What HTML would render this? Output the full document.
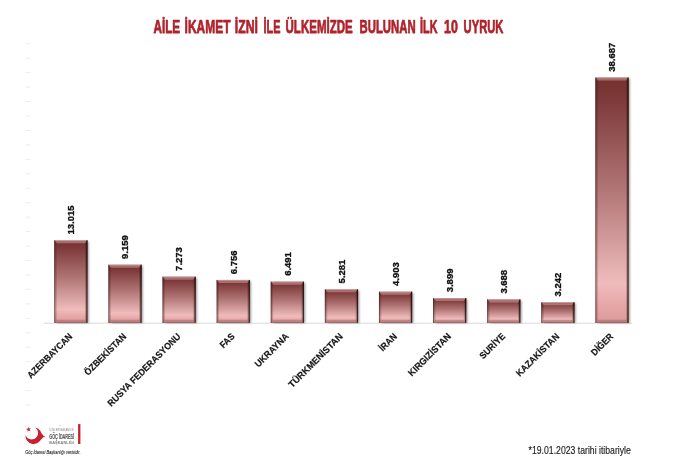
<!DOCTYPE html>
<html lang="tr"><head><meta charset="utf-8"><title>Aile İkamet İzni</title>
<style>
html,body{margin:0;padding:0;background:#fff;}
body{width:694px;height:465px;overflow:hidden;position:relative;font-family:"Liberation Sans",sans-serif;}
svg{position:absolute;left:0;top:0;display:block}
text{font-family:"Liberation Sans",sans-serif;}
.t{font-weight:bold;font-size:18.4px;fill:#b1232b;stroke:#b1232b;stroke-width:0.75px;stroke-linejoin:round;}
.v{font-weight:bold;font-size:9px;fill:#111;stroke:#111;stroke-width:0.32px;}
.c{font-weight:bold;font-size:9.3px;fill:#161616;stroke:#161616;stroke-width:0.2px;}
</style></head><body>
<svg width="694" height="465" viewBox="0 0 694 465">
<defs>
<linearGradient id="g" x1="0" y1="0" x2="0" y2="1">
<stop offset="0" stop-color="#753030"/>
<stop offset="0.06" stop-color="#7a3535"/>
<stop offset="0.45" stop-color="#b07474"/>
<stop offset="0.84" stop-color="#efbcbc"/>
<stop offset="0.93" stop-color="#e6a6a6"/>
<stop offset="1" stop-color="#dc9a9a"/>
</linearGradient>
<filter id="sh" x="-20%" y="-5%" width="150%" height="110%"><feGaussianBlur stdDeviation="0.9"/></filter>
</defs>
<rect width="694" height="465" fill="#fff"/>

<rect x="25.3" y="43.25" width="5.2" height="1" fill="#ededed"/>
<rect x="25.3" y="57.70" width="5.2" height="1" fill="#ededed"/>
<rect x="25.3" y="72.15" width="5.2" height="1" fill="#ededed"/>
<rect x="25.3" y="86.60" width="5.2" height="1" fill="#ededed"/>
<rect x="25.3" y="101.05" width="5.2" height="1" fill="#ededed"/>
<rect x="25.3" y="115.50" width="5.2" height="1" fill="#ededed"/>
<rect x="25.3" y="129.95" width="5.2" height="1" fill="#ededed"/>
<rect x="25.3" y="144.40" width="5.2" height="1" fill="#ededed"/>
<rect x="25.3" y="158.85" width="5.2" height="1" fill="#ededed"/>
<rect x="25.3" y="173.30" width="5.2" height="1" fill="#ededed"/>
<rect x="25.3" y="187.75" width="5.2" height="1" fill="#ededed"/>
<rect x="25.3" y="202.20" width="5.2" height="1" fill="#ededed"/>
<rect x="25.3" y="216.65" width="5.2" height="1" fill="#ededed"/>
<rect x="25.3" y="231.10" width="5.2" height="1" fill="#ededed"/>
<rect x="25.3" y="245.55" width="5.2" height="1" fill="#ededed"/>
<rect x="25.3" y="260.00" width="5.2" height="1" fill="#ededed"/>
<rect x="25.3" y="274.45" width="5.2" height="1" fill="#ededed"/>
<rect x="25.3" y="288.90" width="5.2" height="1" fill="#ededed"/>
<rect x="25.3" y="303.35" width="5.2" height="1" fill="#ededed"/>
<rect x="25.3" y="317.80" width="5.2" height="1" fill="#ededed"/>
<rect x="25.3" y="332.25" width="5.2" height="1" fill="#ededed"/>
<rect x="25.3" y="346.70" width="5.2" height="1" fill="#ededed"/>
<rect x="25.3" y="361.15" width="5.2" height="1" fill="#ededed"/>
<rect x="25.3" y="375.60" width="5.2" height="1" fill="#ededed"/>
<rect x="25.3" y="390.05" width="5.2" height="1" fill="#ededed"/>
<rect x="25.3" y="404.50" width="5.2" height="1" fill="#ededed"/>
<rect x="43.8" y="322.7" width="588.5" height="1" fill="#d9d9d9"/>
<text class="t" x="153.4" y="32.6" textLength="26.8" lengthAdjust="spacingAndGlyphs">AİLE</text>
<text class="t" x="184.6" y="32.6" textLength="45.9" lengthAdjust="spacingAndGlyphs">İKAMET</text>
<text class="t" x="234.8" y="32.6" textLength="23.1" lengthAdjust="spacingAndGlyphs">İZNİ</text>
<text class="t" x="263.6" y="32.6" textLength="16.9" lengthAdjust="spacingAndGlyphs">İLE</text>
<text class="t" x="285.5" y="32.6" textLength="67.3" lengthAdjust="spacingAndGlyphs">ÜLKEMİZDE</text>
<text class="t" x="359.5" y="32.6" textLength="56.1" lengthAdjust="spacingAndGlyphs">BULUNAN</text>
<text class="t" x="420.1" y="32.6" textLength="17.3" lengthAdjust="spacingAndGlyphs">İLK</text>
<text class="t" x="444.0" y="32.6" textLength="13.8" lengthAdjust="spacingAndGlyphs">10</text>
<text class="t" x="463.6" y="32.6" textLength="39.8" lengthAdjust="spacingAndGlyphs">UYRUK</text>
<rect x="57.30" y="241.48" width="31.40" height="81.52" fill="#000" opacity="0.4" filter="url(#sh)"/>
<rect x="54.30" y="240.28" width="33.20" height="82.52" fill="url(#g)"/>
<polygon points="54.30,240.28 87.50,240.28 85.10,243.28 56.70,243.28" fill="#ffd8d8" opacity="0.36"/>
<polygon points="54.30,322.80 87.50,322.80 85.10,319.80 56.70,319.80" fill="#6a2a2a" opacity="0.27"/>
<polygon points="54.30,240.28 56.70,242.68 56.70,320.40 54.30,322.80" fill="#401818" opacity="0.22"/>
<polygon points="87.50,240.28 85.10,242.68 85.10,320.40 87.50,322.80" fill="#2a0c0c" opacity="0.24"/>
<rect x="54.30" y="240.28" width="0.9" height="82.52" fill="#3a1a1a" opacity="0.6"/>
<rect x="86.30" y="240.28" width="1.2" height="82.52" fill="#1c0808" opacity="0.8"/>
<rect x="55.20" y="240.28" width="31.10" height="0.7" fill="#e8c8c8" opacity="0.55"/>
<rect x="54.30" y="322.20" width="33.20" height="0.6" fill="#3a1a1a" opacity="0.45"/>
<text class="v" transform="translate(74.25,234.48) rotate(-90)" textLength="28.9" lengthAdjust="spacingAndGlyphs">13.015</text>
<text class="c" text-anchor="end" transform="translate(72.90,337.00) rotate(-45) scale(0.925,1)">AZERBAYCAN</text>
<rect x="111.41" y="265.93" width="31.40" height="57.07" fill="#000" opacity="0.4" filter="url(#sh)"/>
<rect x="108.41" y="264.73" width="33.20" height="58.07" fill="url(#g)"/>
<polygon points="108.41,264.73 141.61,264.73 139.21,267.73 110.81,267.73" fill="#ffd8d8" opacity="0.36"/>
<polygon points="108.41,322.80 141.61,322.80 139.21,319.80 110.81,319.80" fill="#6a2a2a" opacity="0.27"/>
<polygon points="108.41,264.73 110.81,267.13 110.81,320.40 108.41,322.80" fill="#401818" opacity="0.22"/>
<polygon points="141.61,264.73 139.21,267.13 139.21,320.40 141.61,322.80" fill="#2a0c0c" opacity="0.24"/>
<rect x="108.41" y="264.73" width="0.9" height="58.07" fill="#3a1a1a" opacity="0.6"/>
<rect x="140.41" y="264.73" width="1.2" height="58.07" fill="#1c0808" opacity="0.8"/>
<rect x="109.31" y="264.73" width="31.10" height="0.7" fill="#e8c8c8" opacity="0.55"/>
<rect x="108.41" y="322.20" width="33.20" height="0.6" fill="#3a1a1a" opacity="0.45"/>
<text class="v" transform="translate(128.36,258.93) rotate(-90)" textLength="23.7" lengthAdjust="spacingAndGlyphs">9.159</text>
<text class="c" text-anchor="end" transform="translate(127.01,337.00) rotate(-45) scale(0.925,1)">ÖZBEKİSTAN</text>
<rect x="165.52" y="277.88" width="31.40" height="45.12" fill="#000" opacity="0.4" filter="url(#sh)"/>
<rect x="162.52" y="276.68" width="33.20" height="46.12" fill="url(#g)"/>
<polygon points="162.52,276.68 195.72,276.68 193.32,279.68 164.92,279.68" fill="#ffd8d8" opacity="0.36"/>
<polygon points="162.52,322.80 195.72,322.80 193.32,319.80 164.92,319.80" fill="#6a2a2a" opacity="0.27"/>
<polygon points="162.52,276.68 164.92,279.08 164.92,320.40 162.52,322.80" fill="#401818" opacity="0.22"/>
<polygon points="195.72,276.68 193.32,279.08 193.32,320.40 195.72,322.80" fill="#2a0c0c" opacity="0.24"/>
<rect x="162.52" y="276.68" width="0.9" height="46.12" fill="#3a1a1a" opacity="0.6"/>
<rect x="194.52" y="276.68" width="1.2" height="46.12" fill="#1c0808" opacity="0.8"/>
<rect x="163.42" y="276.68" width="31.10" height="0.7" fill="#e8c8c8" opacity="0.55"/>
<rect x="162.52" y="322.20" width="33.20" height="0.6" fill="#3a1a1a" opacity="0.45"/>
<text class="v" transform="translate(182.47,270.88) rotate(-90)" textLength="23.7" lengthAdjust="spacingAndGlyphs">7.273</text>
<text class="c" text-anchor="end" transform="translate(181.12,337.00) rotate(-45) scale(0.94,1)">RUSYA FEDERASYONU</text>
<rect x="219.63" y="281.16" width="31.40" height="41.84" fill="#000" opacity="0.4" filter="url(#sh)"/>
<rect x="216.63" y="279.96" width="33.20" height="42.84" fill="url(#g)"/>
<polygon points="216.63,279.96 249.83,279.96 247.43,282.96 219.03,282.96" fill="#ffd8d8" opacity="0.36"/>
<polygon points="216.63,322.80 249.83,322.80 247.43,319.80 219.03,319.80" fill="#6a2a2a" opacity="0.27"/>
<polygon points="216.63,279.96 219.03,282.36 219.03,320.40 216.63,322.80" fill="#401818" opacity="0.22"/>
<polygon points="249.83,279.96 247.43,282.36 247.43,320.40 249.83,322.80" fill="#2a0c0c" opacity="0.24"/>
<rect x="216.63" y="279.96" width="0.9" height="42.84" fill="#3a1a1a" opacity="0.6"/>
<rect x="248.63" y="279.96" width="1.2" height="42.84" fill="#1c0808" opacity="0.8"/>
<rect x="217.53" y="279.96" width="31.10" height="0.7" fill="#e8c8c8" opacity="0.55"/>
<rect x="216.63" y="322.20" width="33.20" height="0.6" fill="#3a1a1a" opacity="0.45"/>
<text class="v" transform="translate(236.58,274.16) rotate(-90)" textLength="23.7" lengthAdjust="spacingAndGlyphs">6.756</text>
<text class="c" text-anchor="end" transform="translate(235.23,337.00) rotate(-45) scale(0.925,1)">FAS</text>
<rect x="273.74" y="282.84" width="31.40" height="40.16" fill="#000" opacity="0.4" filter="url(#sh)"/>
<rect x="270.74" y="281.64" width="33.20" height="41.16" fill="url(#g)"/>
<polygon points="270.74,281.64 303.94,281.64 301.54,284.64 273.14,284.64" fill="#ffd8d8" opacity="0.36"/>
<polygon points="270.74,322.80 303.94,322.80 301.54,319.80 273.14,319.80" fill="#6a2a2a" opacity="0.27"/>
<polygon points="270.74,281.64 273.14,284.04 273.14,320.40 270.74,322.80" fill="#401818" opacity="0.22"/>
<polygon points="303.94,281.64 301.54,284.04 301.54,320.40 303.94,322.80" fill="#2a0c0c" opacity="0.24"/>
<rect x="270.74" y="281.64" width="0.9" height="41.16" fill="#3a1a1a" opacity="0.6"/>
<rect x="302.74" y="281.64" width="1.2" height="41.16" fill="#1c0808" opacity="0.8"/>
<rect x="271.64" y="281.64" width="31.10" height="0.7" fill="#e8c8c8" opacity="0.55"/>
<rect x="270.74" y="322.20" width="33.20" height="0.6" fill="#3a1a1a" opacity="0.45"/>
<text class="v" transform="translate(290.69,275.84) rotate(-90)" textLength="23.7" lengthAdjust="spacingAndGlyphs">6.491</text>
<text class="c" text-anchor="end" transform="translate(289.34,337.00) rotate(-45) scale(0.955,1)">UKRAYNA</text>
<rect x="327.85" y="290.52" width="31.40" height="32.48" fill="#000" opacity="0.4" filter="url(#sh)"/>
<rect x="324.85" y="289.32" width="33.20" height="33.48" fill="url(#g)"/>
<polygon points="324.85,289.32 358.05,289.32 355.65,292.32 327.25,292.32" fill="#ffd8d8" opacity="0.36"/>
<polygon points="324.85,322.80 358.05,322.80 355.65,319.80 327.25,319.80" fill="#6a2a2a" opacity="0.27"/>
<polygon points="324.85,289.32 327.25,291.72 327.25,320.40 324.85,322.80" fill="#401818" opacity="0.22"/>
<polygon points="358.05,289.32 355.65,291.72 355.65,320.40 358.05,322.80" fill="#2a0c0c" opacity="0.24"/>
<rect x="324.85" y="289.32" width="0.9" height="33.48" fill="#3a1a1a" opacity="0.6"/>
<rect x="356.85" y="289.32" width="1.2" height="33.48" fill="#1c0808" opacity="0.8"/>
<rect x="325.75" y="289.32" width="31.10" height="0.7" fill="#e8c8c8" opacity="0.55"/>
<rect x="324.85" y="322.20" width="33.20" height="0.6" fill="#3a1a1a" opacity="0.45"/>
<text class="v" transform="translate(344.80,283.52) rotate(-90)" textLength="23.7" lengthAdjust="spacingAndGlyphs">5.281</text>
<text class="c" text-anchor="end" transform="translate(343.45,337.00) rotate(-45) scale(0.985,1)">TÜRKMENİSTAN</text>
<rect x="381.96" y="292.91" width="31.40" height="30.09" fill="#000" opacity="0.4" filter="url(#sh)"/>
<rect x="378.96" y="291.71" width="33.20" height="31.09" fill="url(#g)"/>
<polygon points="378.96,291.71 412.16,291.71 409.76,294.71 381.36,294.71" fill="#ffd8d8" opacity="0.36"/>
<polygon points="378.96,322.80 412.16,322.80 409.76,319.80 381.36,319.80" fill="#6a2a2a" opacity="0.27"/>
<polygon points="378.96,291.71 381.36,294.11 381.36,320.40 378.96,322.80" fill="#401818" opacity="0.22"/>
<polygon points="412.16,291.71 409.76,294.11 409.76,320.40 412.16,322.80" fill="#2a0c0c" opacity="0.24"/>
<rect x="378.96" y="291.71" width="0.9" height="31.09" fill="#3a1a1a" opacity="0.6"/>
<rect x="410.96" y="291.71" width="1.2" height="31.09" fill="#1c0808" opacity="0.8"/>
<rect x="379.86" y="291.71" width="31.10" height="0.7" fill="#e8c8c8" opacity="0.55"/>
<rect x="378.96" y="322.20" width="33.20" height="0.6" fill="#3a1a1a" opacity="0.45"/>
<text class="v" transform="translate(398.91,285.91) rotate(-90)" textLength="23.7" lengthAdjust="spacingAndGlyphs">4.903</text>
<text class="c" text-anchor="end" transform="translate(397.56,337.00) rotate(-45) scale(0.925,1)">İRAN</text>
<rect x="436.07" y="299.28" width="31.40" height="23.72" fill="#000" opacity="0.4" filter="url(#sh)"/>
<rect x="433.07" y="298.08" width="33.20" height="24.72" fill="url(#g)"/>
<polygon points="433.07,298.08 466.27,298.08 463.87,301.08 435.47,301.08" fill="#ffd8d8" opacity="0.36"/>
<polygon points="433.07,322.80 466.27,322.80 463.87,319.80 435.47,319.80" fill="#6a2a2a" opacity="0.27"/>
<polygon points="433.07,298.08 435.47,300.48 435.47,320.40 433.07,322.80" fill="#401818" opacity="0.22"/>
<polygon points="466.27,298.08 463.87,300.48 463.87,320.40 466.27,322.80" fill="#2a0c0c" opacity="0.24"/>
<rect x="433.07" y="298.08" width="0.9" height="24.72" fill="#3a1a1a" opacity="0.6"/>
<rect x="465.07" y="298.08" width="1.2" height="24.72" fill="#1c0808" opacity="0.8"/>
<rect x="433.97" y="298.08" width="31.10" height="0.7" fill="#e8c8c8" opacity="0.55"/>
<rect x="433.07" y="322.20" width="33.20" height="0.6" fill="#3a1a1a" opacity="0.45"/>
<text class="v" transform="translate(453.02,292.28) rotate(-90)" textLength="23.7" lengthAdjust="spacingAndGlyphs">3.899</text>
<text class="c" text-anchor="end" transform="translate(451.67,337.00) rotate(-45) scale(0.96,1)">KIRGIZİSTAN</text>
<rect x="490.18" y="300.62" width="31.40" height="22.38" fill="#000" opacity="0.4" filter="url(#sh)"/>
<rect x="487.18" y="299.42" width="33.20" height="23.38" fill="url(#g)"/>
<polygon points="487.18,299.42 520.38,299.42 517.98,302.42 489.58,302.42" fill="#ffd8d8" opacity="0.36"/>
<polygon points="487.18,322.80 520.38,322.80 517.98,319.80 489.58,319.80" fill="#6a2a2a" opacity="0.27"/>
<polygon points="487.18,299.42 489.58,301.82 489.58,320.40 487.18,322.80" fill="#401818" opacity="0.22"/>
<polygon points="520.38,299.42 517.98,301.82 517.98,320.40 520.38,322.80" fill="#2a0c0c" opacity="0.24"/>
<rect x="487.18" y="299.42" width="0.9" height="23.38" fill="#3a1a1a" opacity="0.6"/>
<rect x="519.18" y="299.42" width="1.2" height="23.38" fill="#1c0808" opacity="0.8"/>
<rect x="488.08" y="299.42" width="31.10" height="0.7" fill="#e8c8c8" opacity="0.55"/>
<rect x="487.18" y="322.20" width="33.20" height="0.6" fill="#3a1a1a" opacity="0.45"/>
<text class="v" transform="translate(507.13,293.62) rotate(-90)" textLength="23.7" lengthAdjust="spacingAndGlyphs">3.688</text>
<text class="c" text-anchor="end" transform="translate(505.78,337.00) rotate(-45) scale(0.925,1)">SURİYE</text>
<rect x="544.29" y="303.44" width="31.40" height="19.56" fill="#000" opacity="0.4" filter="url(#sh)"/>
<rect x="541.29" y="302.24" width="33.20" height="20.56" fill="url(#g)"/>
<polygon points="541.29,302.24 574.49,302.24 572.09,305.24 543.69,305.24" fill="#ffd8d8" opacity="0.36"/>
<polygon points="541.29,322.80 574.49,322.80 572.09,319.80 543.69,319.80" fill="#6a2a2a" opacity="0.27"/>
<polygon points="541.29,302.24 543.69,304.64 543.69,320.40 541.29,322.80" fill="#401818" opacity="0.22"/>
<polygon points="574.49,302.24 572.09,304.64 572.09,320.40 574.49,322.80" fill="#2a0c0c" opacity="0.24"/>
<rect x="541.29" y="302.24" width="0.9" height="20.56" fill="#3a1a1a" opacity="0.6"/>
<rect x="573.29" y="302.24" width="1.2" height="20.56" fill="#1c0808" opacity="0.8"/>
<rect x="542.19" y="302.24" width="31.10" height="0.7" fill="#e8c8c8" opacity="0.55"/>
<rect x="541.29" y="322.20" width="33.20" height="0.6" fill="#3a1a1a" opacity="0.45"/>
<text class="v" transform="translate(561.24,296.44) rotate(-90)" textLength="23.7" lengthAdjust="spacingAndGlyphs">3.242</text>
<text class="c" text-anchor="end" transform="translate(559.89,337.00) rotate(-45) scale(0.95,1)">KAZAKİSTAN</text>
<rect x="598.40" y="78.70" width="31.40" height="244.30" fill="#000" opacity="0.4" filter="url(#sh)"/>
<rect x="595.40" y="77.50" width="33.20" height="245.30" fill="url(#g)"/>
<polygon points="595.40,77.50 628.60,77.50 626.20,80.50 597.80,80.50" fill="#ffd8d8" opacity="0.36"/>
<polygon points="595.40,322.80 628.60,322.80 626.20,319.80 597.80,319.80" fill="#6a2a2a" opacity="0.27"/>
<polygon points="595.40,77.50 597.80,79.90 597.80,320.40 595.40,322.80" fill="#401818" opacity="0.22"/>
<polygon points="628.60,77.50 626.20,79.90 626.20,320.40 628.60,322.80" fill="#2a0c0c" opacity="0.24"/>
<rect x="595.40" y="77.50" width="0.9" height="245.30" fill="#3a1a1a" opacity="0.6"/>
<rect x="627.40" y="77.50" width="1.2" height="245.30" fill="#1c0808" opacity="0.8"/>
<rect x="596.30" y="77.50" width="31.10" height="0.7" fill="#e8c8c8" opacity="0.55"/>
<rect x="595.40" y="322.20" width="33.20" height="0.6" fill="#3a1a1a" opacity="0.45"/>
<text class="v" transform="translate(615.35,71.70) rotate(-90)" textLength="28.9" lengthAdjust="spacingAndGlyphs">38.687</text>
<text class="c" text-anchor="end" transform="translate(614.00,337.00) rotate(-45) scale(0.925,1)">DİĞER</text>

<!-- logo -->
<g id="logo" fill="#c8202c">
<path d="M35.1 427.6 A8.25 8.25 0 1 1 25.5 434.7 A6.4 6.4 0 1 0 35.1 427.6 Z"/>
<path d="M41.2 433.6 Q42.6 434.2 43.2 435.6 L45.3 436.9 L43.0 437.3 Q42.4 438.6 41.0 439.4 Z"/>
<polygon points="28.04,426.76 29.03,428.44 30.94,428.05 29.64,429.51 30.61,431.21 28.82,430.43 27.50,431.87 27.69,429.92 25.91,429.12 27.82,428.70"/>
</g>
<rect x="78.1" y="424.1" width="2.3" height="19.9" fill="#c8202c"/>
<text x="59.0" y="425.8" font-size="1.8" fill="#999" textLength="2.2" lengthAdjust="spacingAndGlyphs">T.C.</text>
<text x="49.3" y="431.1" font-size="3.3" fill="#888" textLength="24.7" lengthAdjust="spacingAndGlyphs">İÇİŞLERİ BAKANLIĞI</text>
<text x="49.3" y="439.2" font-size="6.8" font-weight="bold" fill="#5a5a5a" stroke="#5a5a5a" stroke-width="0.15" textLength="24.7" lengthAdjust="spacingAndGlyphs">GÖÇ İDARESİ</text>
<text x="49.3" y="444.0" font-size="4.3" font-weight="bold" fill="#808080" textLength="24.7" lengthAdjust="spacingAndGlyphs">BAŞKANLIĞI</text>
<text x="25.2" y="453.5" font-size="5.7" font-style="italic" fill="#222" stroke="#222" stroke-width="0.1" textLength="55.3" lengthAdjust="spacingAndGlyphs">Göç İdaresi Başkanlığı verisidir.</text>
<text x="528.6" y="453.6" font-size="11.2" fill="#1a1a1a" stroke="#1a1a1a" stroke-width="0.15" textLength="102.2" lengthAdjust="spacingAndGlyphs">*19.01.2023 tarihi itibariyle</text>
</svg>
</body></html>
